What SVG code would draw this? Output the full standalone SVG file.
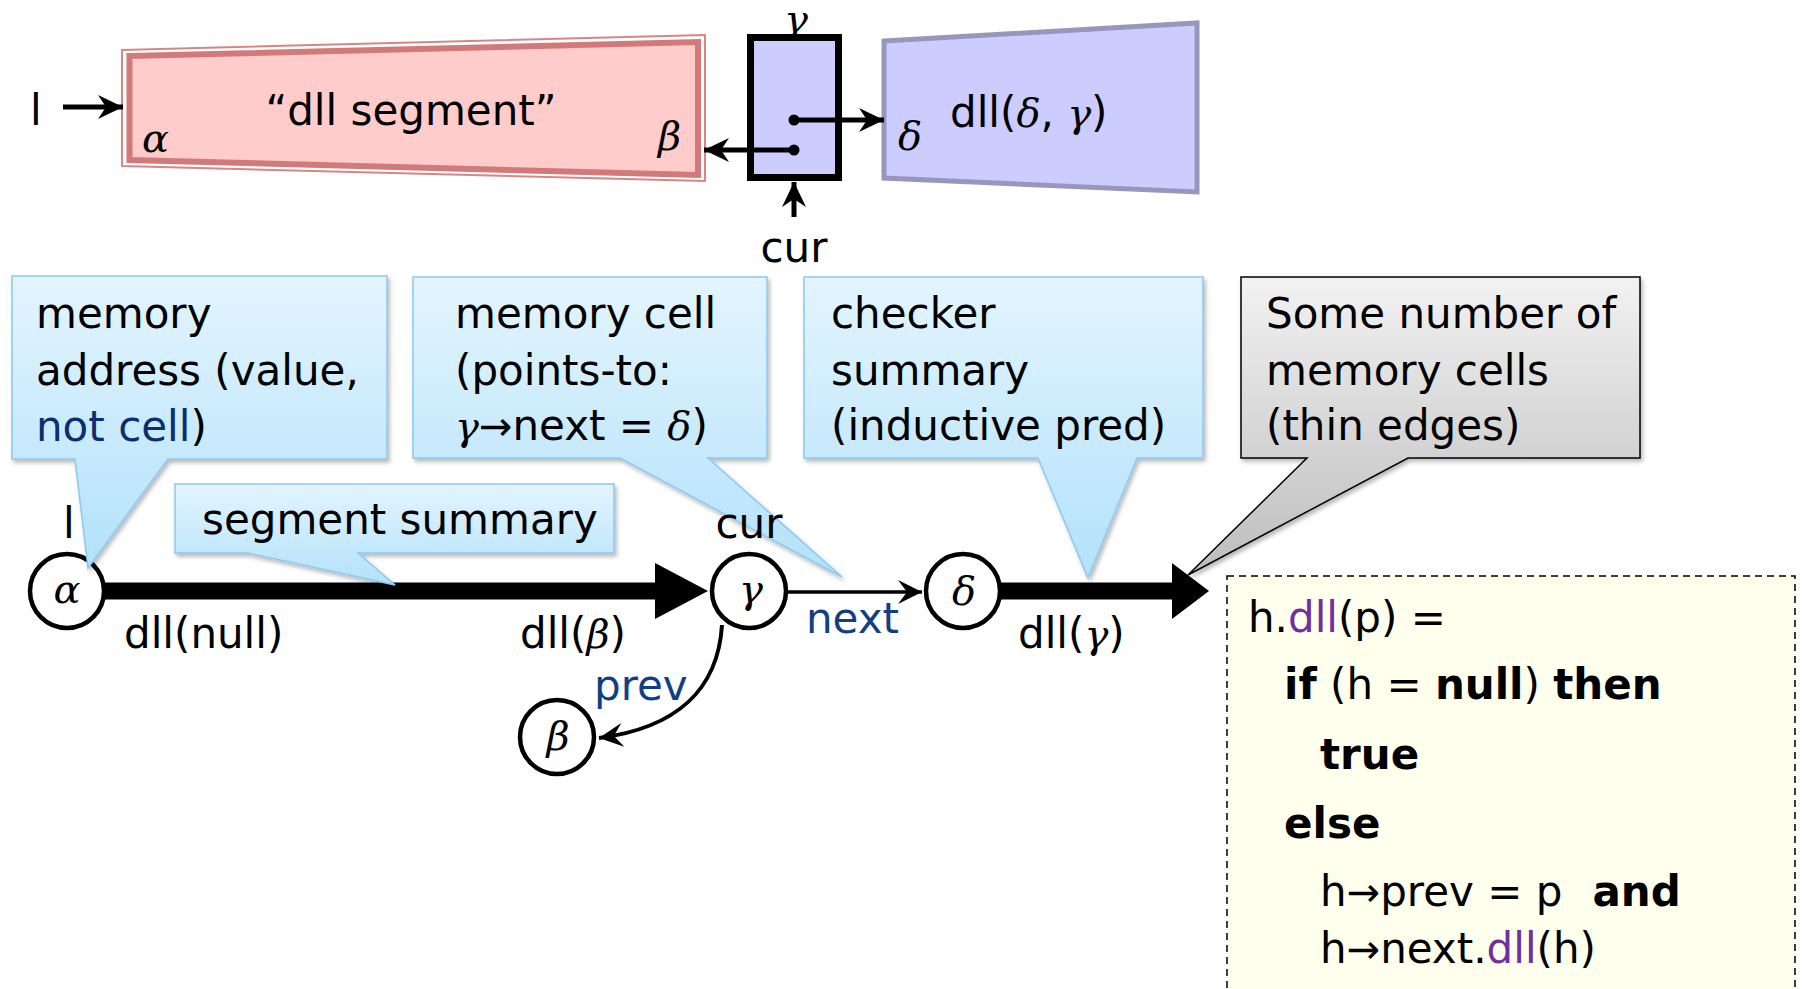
<svg xmlns="http://www.w3.org/2000/svg" width="1805" height="989" viewBox="0 0 1805 989">
  <defs>
    <linearGradient id="blueFill" x1="0" y1="0" x2="0" y2="1">
      <stop offset="0" stop-color="#e3f5fe"/>
      <stop offset="1" stop-color="#b3e1fb"/>
    </linearGradient>
    <linearGradient id="grayFill" x1="0" y1="0" x2="0" y2="1">
      <stop offset="0" stop-color="#f2f2f2"/>
      <stop offset="1" stop-color="#bdbdbd"/>
    </linearGradient>
    <filter id="shadow" x="-10%" y="-10%" width="120%" height="130%">
      <feDropShadow dx="2" dy="3" stdDeviation="2" flood-color="#000" flood-opacity="0.28"/>
    </filter>
    <marker id="barb" viewBox="-26 -14 28 28" markerWidth="28" markerHeight="28" refX="0" refY="0" orient="auto" markerUnits="userSpaceOnUse">
      <path d="M0 0 L-25 -12 L-17 0 L-25 12 Z" fill="#000"/>
    </marker>
    <marker id="barbThin" viewBox="-26 -14 28 28" markerWidth="28" markerHeight="28" refX="0" refY="0" orient="auto" markerUnits="userSpaceOnUse">
      <path d="M0 0 L-24 -12 L-15 0 L-24 12 Z" fill="#000"/>
    </marker>
  </defs>
  <style>
    text { font-family: "DejaVu Sans", "Liberation Sans", sans-serif; font-size: 42px; fill: #000; }
    .greek { font-family: "DejaVu Serif", "Liberation Serif", serif; font-style: italic; font-size: 40px; }
    .arrow { font-family: "DejaVu Sans", sans-serif; font-size: 40px; }
    .b { font-weight: bold; }
    .navy { fill: #0b2f6e; }
    .link { fill: #123f84; }
    .purple { fill: #7030a0; }
    .callout { fill: url(#blueFill); stroke: #8cc8f2; stroke-width: 1.5; filter: url(#shadow); }
    .gcallout { fill: url(#grayFill); stroke: #000; stroke-width: 1.5; filter: url(#shadow); }
    .node { fill: #fff; stroke: #000; stroke-width: 4.5; }
    .ptr { stroke: #000; stroke-width: 5; fill: none; }
  </style>

  <!-- top: abstract heap picture -->
  <g id="segment-shape">
    <polygon points="122,50 705,35 705,181 122,166" fill="#fff" stroke="#d98585" stroke-width="2" stroke-linejoin="round"/>
    <polygon points="129.5,56 698,42 698,175 129.5,160" fill="#ffcccc" stroke="#d27a7a" stroke-width="6"/>
    <text x="411" y="125" text-anchor="middle">“dll segment”</text>
    <text class="greek" x="142" y="152">α</text>
    <text class="greek" x="658" y="150">β</text>
  </g>

  <g id="cell-shape">
    <rect x="750.5" y="37.5" width="88" height="140" fill="#ccccff" stroke="#000" stroke-width="7"/>
    <circle cx="794" cy="120" r="5.5" fill="#000"/>
    <circle cx="794" cy="150" r="5.5" fill="#000"/>
    <text class="greek" x="796" y="33" text-anchor="middle" font-size="30">γ</text>
  </g>

  <g id="dll-shape">
    <polygon points="884,41 1197,23 1197,192 884,178" fill="#ccccff" stroke="#9797bd" stroke-width="5"/>
    <text class="greek" x="898" y="150">δ</text>
    <text x="950" y="127">dll(<tspan class="greek">δ</tspan>, <tspan class="greek">γ</tspan>)</text>
  </g>

  <g id="top-labels">
    <text x="30" y="125">l</text>
    <text x="794" y="262" text-anchor="middle">cur</text>
  </g>

  <g id="top-connectors">
    <line class="ptr" x1="63" y1="107" x2="123" y2="107" marker-end="url(#barb)"/>
    <line class="ptr" x1="794" y1="120" x2="884" y2="120" marker-end="url(#barb)"/>
    <line class="ptr" x1="794" y1="150" x2="704" y2="150" marker-end="url(#barb)"/>
    <line class="ptr" x1="794" y1="217" x2="794" y2="182" marker-end="url(#barb)"/>
  </g>

  <!-- bottom: concrete graph -->
  <g id="connectors">
    <line x1="105" y1="591" x2="657" y2="591" stroke="#000" stroke-width="17"/>
    <polygon points="655,563 708,591 655,619" fill="#000"/>
    <line x1="788" y1="592" x2="922" y2="592" stroke="#000" stroke-width="3.5" marker-end="url(#barbThin)"/>
    <line x1="1001" y1="591" x2="1174" y2="591" stroke="#000" stroke-width="17"/>
    <polygon points="1172,563 1209,591 1172,619" fill="#000"/>
    <path d="M722 625 C718 690 676 728 599 738" fill="none" stroke="#000" stroke-width="4" marker-end="url(#barbThin)"/>
  </g>

  <g id="node-alpha">
    <circle class="node" cx="67" cy="591" r="37"/>
    <text class="greek" x="67" y="603" text-anchor="middle">α</text>
  </g>
  <g id="node-gamma">
    <circle class="node" cx="749" cy="591" r="37"/>
    <text class="greek" x="751" y="603" text-anchor="middle">γ</text>
  </g>
  <g id="node-delta">
    <circle class="node" cx="963" cy="591" r="37"/>
    <text class="greek" x="964" y="605" text-anchor="middle">δ</text>
  </g>
  <g id="node-beta">
    <circle class="node" cx="557" cy="737" r="37"/>
    <text class="greek" x="558" y="750" text-anchor="middle">β</text>
  </g>

  <!-- callouts -->
  <g id="callout-address">
    <path class="callout" d="M12 276 H387 V459 H168 L88 568 L75 459 H12 Z"/>
    <text x="36" y="328">memory</text>
    <text x="36" y="385">address (value,</text>
    <text x="36" y="441"><tspan class="navy">not cell</tspan>)</text>
  </g>
  <g id="callout-cell">
    <path class="callout" d="M413 277 H767 V458 H708 L842 577 L620 458 H413 Z"/>
    <text x="455" y="328">memory cell</text>
    <text x="455" y="385">(points-to:</text>
    <text x="455" y="440"><tspan class="greek">γ</tspan><tspan class="arrow">→</tspan>next = <tspan class="greek">δ</tspan>)</text>
  </g>
  <g id="callout-checker">
    <path class="callout" d="M804 277 H1203 V458 H1137 L1088 578 L1038 458 H804 Z"/>
    <text x="831" y="328">checker</text>
    <text x="831" y="385">summary</text>
    <text x="831" y="440">(inductive pred)</text>
  </g>
  <g id="callout-cells">
    <path class="gcallout" d="M1241 277 H1640 V458 H1408 L1188 575 L1307 458 H1241 Z"/>
    <text x="1266" y="328">Some number of</text>
    <text x="1266" y="385">memory cells</text>
    <text x="1266" y="440">(thin edges)</text>
  </g>
  <g id="callout-segment">
    <path class="callout" d="M175 484 H614 V553 H358 L395 585 L248 553 H175 Z"/>
    <text x="202" y="534">segment summary</text>
  </g>

  <g id="edge-labels">
    <text x="63" y="538">l</text>
    <text x="749" y="538" text-anchor="middle">cur</text>
    <text x="124" y="648">dll(null)</text>
    <text x="520" y="648">dll(<tspan class="greek">β</tspan>)</text>
    <text x="1018" y="648">dll(<tspan class="greek">γ</tspan>)</text>
    <text class="link" x="806" y="633">next</text>
    <text class="link" x="594" y="700">prev</text>
  </g>

  <!-- checker definition -->
  <g id="code">
    <rect x="1227" y="576" width="568" height="430" fill="#ffffee" stroke="#000" stroke-width="1.5" stroke-dasharray="7 5"/>
    <text x="1248" y="632">h.<tspan class="purple">dll</tspan>(p) =</text>
    <text x="1284" y="699"><tspan class="b">if</tspan> (h = <tspan class="b">null</tspan>) <tspan class="b">then</tspan></text>
    <text class="b" x="1320" y="769">true</text>
    <text class="b" x="1284" y="838">else</text>
    <text x="1320" y="906">h<tspan class="arrow">→</tspan>prev = p<tspan class="b" dx="30">and</tspan></text>
    <text x="1320" y="963">h<tspan class="arrow">→</tspan>next.<tspan class="purple">dll</tspan>(h)</text>
  </g>
</svg>
